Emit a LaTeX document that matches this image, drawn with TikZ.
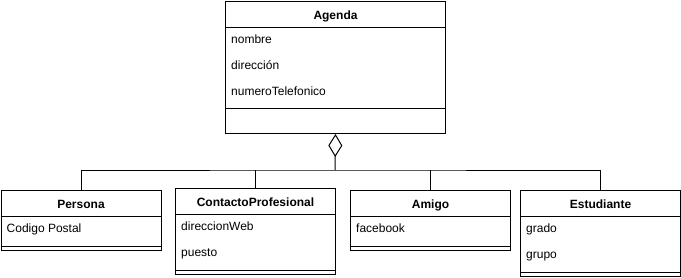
\documentclass[tikz,border=0pt]{standalone}
\usepackage{fontspec}
\setmainfont{Liberation Sans}
\usetikzlibrary{arrows.meta}
\begin{document}
\begin{tikzpicture}[x=1pt,y=-1pt,
  umlbox/.style={draw, line width=1pt, inner sep=0pt, anchor=north west, minimum width=160pt},
  cname/.style={font=\bfseries\fontsize{12}{14}\selectfont, inner sep=0pt, anchor=base},
  attr/.style={font=\fontsize{12}{14}\selectfont, inner sep=0pt, anchor=base west},
  rule/.style={line width=1pt},
  link/.style={line width=1pt}]
\useasboundingbox (0,0) rectangle (681,277);

% class boxes
\node[umlbox, minimum width=220pt, minimum height=132pt] (agenda) at (225,1) {};
\node[umlbox, minimum height=60pt] (persona) at (0.5,190) {};
\node[umlbox, minimum height=86pt] (contacto) at (175,188) {};
\node[umlbox, minimum height=60pt] (amigo) at (350,190) {};
\node[umlbox, minimum height=86pt] (estudiante) at (520,190) {};

% compartment rules: below the name and above the (empty) operations
\foreach \c/\s in {agenda/107, persona/56, contacto/82, amigo/56, estudiante/82}{
  \draw[rule] ([yshift=-26pt]\c.north west) -- ([yshift=-26pt]\c.north east);
  \draw[rule] ([yshift=-\s pt]\c.north west) -- ([yshift=-\s pt]\c.north east);
}

% class names
\node[cname] (agenda-n) at ([yshift=-18.5pt]agenda.north) {Agenda};
\node[cname] (persona-n) at ([yshift=-18.5pt]persona.north) {Persona};
\node[cname] (contacto-n) at ([yshift=-18.5pt]contacto.north) {ContactoProfesional};
\node[cname] (amigo-n) at ([yshift=-18.5pt]amigo.north) {Amigo};
\node[cname] (estudiante-n) at ([yshift=-18.5pt]estudiante.north) {Estudiante};

% attributes
\node[attr] (agenda-a1) at ([xshift=6pt,yshift=-42.5pt]agenda.north west) {nombre};
\node[attr] (agenda-a2) at ([xshift=6pt,yshift=-68.5pt]agenda.north west) {dirección};
\node[attr] (agenda-a3) at ([xshift=6pt,yshift=-94.5pt]agenda.north west) {numeroTelefonico};
\node[attr] (persona-a1) at ([xshift=6pt,yshift=-42.5pt]persona.north west) {Codigo Postal};
\node[attr] (contacto-a1) at ([xshift=6pt,yshift=-42.5pt]contacto.north west) {direccionWeb};
\node[attr] (contacto-a2) at ([xshift=6pt,yshift=-68.5pt]contacto.north west) {puesto};
\node[attr] (amigo-a1) at ([xshift=6pt,yshift=-42.5pt]amigo.north west) {facebook};
\node[attr] (estudiante-a1) at ([xshift=6pt,yshift=-42.5pt]estudiante.north west) {grado};
\node[attr] (estudiante-a2) at ([xshift=6pt,yshift=-68.5pt]estudiante.north west) {grupo};

% aggregation bus
\coordinate (bus) at (335,170);
\draw[link, -{Diamond[open, length=23pt, width=14pt]}] (bus) -- (agenda.south);
\draw[link] (persona.north) |- (bus) -| (estudiante.north);
\draw[link] (contacto.north) -- (contacto.north |- bus);
\draw[link] (amigo.north) -- (amigo.north |- bus);
\end{tikzpicture}
\end{document}
